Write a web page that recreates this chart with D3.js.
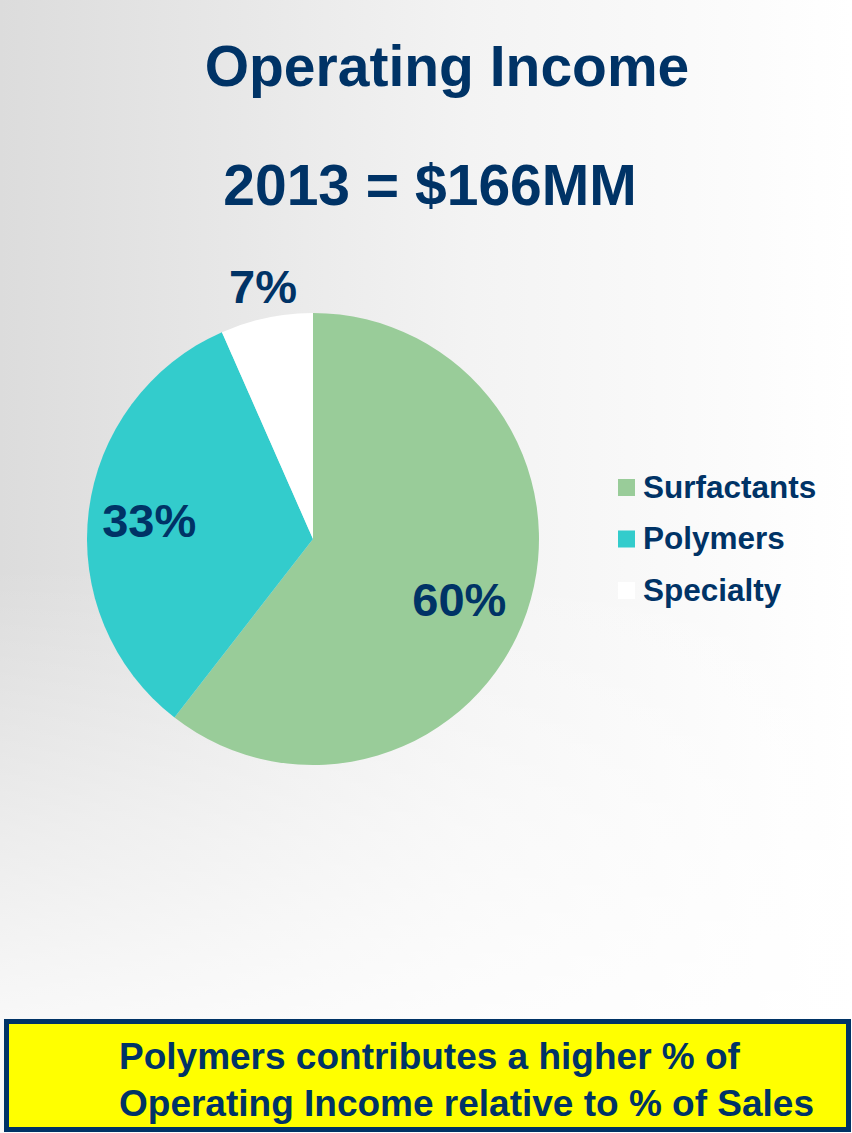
<!DOCTYPE html>
<html>
<head>
<meta charset="utf-8">
<script src="https://cdn.jsdelivr.net/npm/d3@7"></script>
<style>
  html, body { margin: 0; padding: 0; }
  body { width: 852px; height: 1133px; overflow: hidden; }
  svg text { font-family: "Liberation Sans", Arial, Helvetica, sans-serif; font-weight: bold; }
</style>
</head>
<body>
<div id="chart"></div>
<script>
// ---- data ----
const categories = ["Surfactants", "Polymers", "Specialty"];
const values = [60.5, 32.9, 6.6];
const pctLabels = ["60%", "33%", "7%"];
const colors = ["#99cc99", "#33cccc", "#ffffff"];
const titleText = "Operating Income";
const subtitleText = "2013 = $166MM";
const noteLines = ["Polymers contributes a higher % of", "Operating Income relative to % of Sales"];

const W = 852, H = 1133;
const navy = "#003366";

const svg = d3.select("#chart").append("svg")
  .attr("width", W).attr("height", H);

// background gradients
const defs = svg.append("defs");
const gH = defs.append("linearGradient").attr("id", "bgH")
  .attr("x1", "0").attr("y1", "0").attr("x2", "1").attr("y2", "0");
gH.append("stop").attr("offset", "0").attr("stop-color", "#dcdcdc");
gH.append("stop").attr("offset", "0.55").attr("stop-color", "#f3f3f3");
gH.append("stop").attr("offset", "1").attr("stop-color", "#ffffff");
const gV = defs.append("linearGradient").attr("id", "bgV")
  .attr("x1", "0").attr("y1", "0").attr("x2", "0").attr("y2", "1");
gV.append("stop").attr("offset", "0").attr("stop-color", "#ffffff").attr("stop-opacity", 0);
gV.append("stop").attr("offset", "0.5").attr("stop-color", "#ffffff").attr("stop-opacity", 0);
gV.append("stop").attr("offset", "0.9").attr("stop-color", "#ffffff").attr("stop-opacity", 0.8);
gV.append("stop").attr("offset", "1").attr("stop-color", "#ffffff").attr("stop-opacity", 0.85);

svg.append("rect").attr("width", W).attr("height", H).attr("fill", "url(#bgH)");
svg.append("rect").attr("width", W).attr("height", H).attr("fill", "url(#bgV)");

// titles
svg.append("text").attr("x", 447).attr("y", 86)
  .attr("text-anchor", "middle").attr("font-size", 57).attr("fill", navy)
  .text(titleText);
svg.append("text").attr("x", 430).attr("y", 205)
  .attr("text-anchor", "middle").attr("font-size", 57).attr("fill", navy)
  .text(subtitleText);

// pie
const cx = 313, cy = 539, R = 226;
const pie = d3.pie().sort(null).value(d => d);
const arcs = pie(values);
const arc = d3.arc().innerRadius(0).outerRadius(R);
const g = svg.append("g").attr("transform", `translate(${cx},${cy})`);
g.selectAll("path").data(arcs).enter().append("path")
  .attr("d", arc)
  .attr("fill", (d, i) => colors[i]);

const labelR = [160, 165, 257];
const labelShift = [[-5, 8], [0, 1], [3, -1]];
g.selectAll("text.pct").data(arcs).enter().append("text")
  .attr("class", "pct")
  .attr("transform", (d, i) => {
    const a = d3.arc().innerRadius(labelR[i]).outerRadius(labelR[i]);
    const [x, y] = a.centroid(d);
    return `translate(${x + labelShift[i][0]},${y + labelShift[i][1]})`;
  })
  .attr("dy", "0.36em")
  .attr("text-anchor", "middle")
  .attr("font-size", 47)
  .attr("fill", navy)
  .text((d, i) => pctLabels[i]);

// legend
const legend = svg.append("g").attr("transform", "translate(618,479)");
const items = legend.selectAll("g").data(categories).enter().append("g")
  .attr("transform", (d, i) => `translate(0,${i * 51.5})`);
items.append("rect").attr("width", 17).attr("height", 17)
  .attr("fill", (d, i) => colors[i]);
items.append("text").attr("x", 25).attr("y", 18.5)
  .attr("font-size", 31.5).attr("fill", navy)
  .text(d => d);

// bottom note box
svg.append("rect").attr("x", 6.5).attr("y", 1021.5).attr("width", 842).attr("height", 108)
  .attr("fill", "#ffff00").attr("stroke", navy).attr("stroke-width", 5);
svg.selectAll("text.note").data(noteLines).enter().append("text")
  .attr("class", "note")
  .attr("x", 119).attr("y", (d, i) => 1069 + i * 47)
  .attr("font-size", 37).attr("fill", navy)
  .text(d => d);
</script>
</body>
</html>
